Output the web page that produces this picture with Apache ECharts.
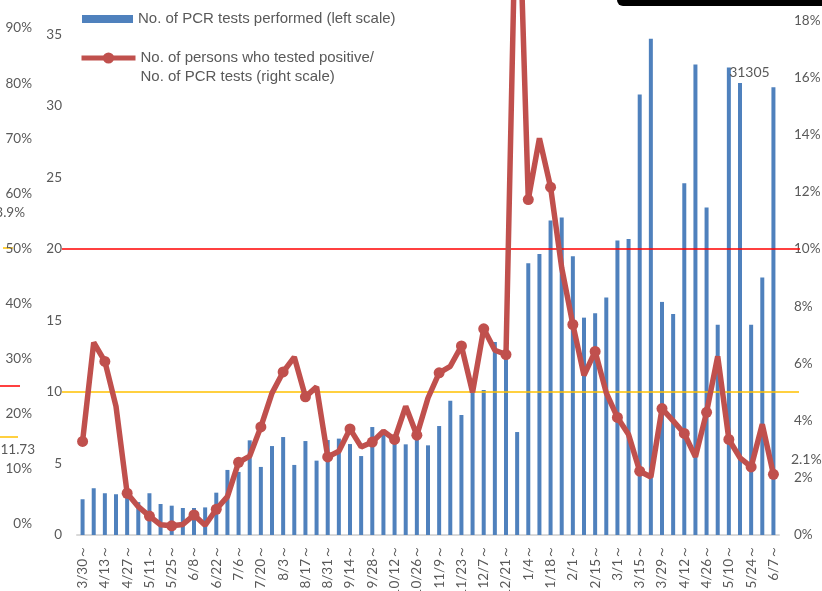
<!DOCTYPE html>
<html>
<head>
<meta charset="utf-8">
<script src="https://cdn.jsdelivr.net/npm/echarts@6/dist/echarts.min.js"></script>
<style>
  html, body { margin: 0; padding: 0; background: #fff; }
  #main { width: 822px; height: 591px; }
</style>
</head>
<body>
<div id="main"></div>
<script>
// weekly periods (week starting)
var weeks = ['3/30～', '4/6～', '4/13～', '4/20～', '4/27～', '5/4～', '5/11～', '5/18～', '5/25～', '6/1～',
  '6/8～', '6/15～', '6/22～', '6/29～', '7/6～', '7/13～', '7/20～', '7/27～', '8/3～', '8/10～',
  '8/17～', '8/24～', '8/31～', '9/7～', '9/14～', '9/21～', '9/28～', '10/5～', '10/12～', '10/19～',
  '10/26～', '11/2～', '11/9～', '11/16～', '11/23～', '11/30～', '12/7～', '12/14～', '12/21～', '12/28～',
  '1/4～', '1/11～', '1/18～', '1/25～', '2/1～', '2/8～', '2/15～', '2/22～', '3/1～', '3/8～',
  '3/15～', '3/22～', '3/29～', '4/5～', '4/12～', '4/19～', '4/26～', '5/3～', '5/10～', '5/17～',
  '5/24～', '5/31～', '6/7～'];

// No. of PCR tests performed (left scale)
var pcrTests = [2500, 3270, 2920, 2850, 2800, 2300, 2920, 2170, 2050, 1890,
  1890, 1930, 2960, 4550, 4410, 6620, 4760, 6220, 6850, 4900,
  6570, 5200, 6640, 6740, 6360, 5520, 7550, 7000, 6640, 6340,
  6690, 6270, 7620, 9390, 8390, 10000, 10140, 13500, 13200, 7200,
  19000, 19650, 22000, 22200, 19500, 15200, 15500, 16600, 20600, 20700,
  30800, 34700, 16300, 15450, 24600, 32900, 22900, 14700, 32700, 31600,
  14700, 18000, 31305];

// positives / PCR tests, % (right scale)
var positiveRate = [3.27, 6.73, 6.07, 4.5, 1.46, 0.99, 0.66, 0.36, 0.32, 0.37,
  0.70, 0.34, 0.90, 1.34, 2.54, 2.76, 3.78, 4.96, 5.7, 6.22,
  4.83, 5.18, 2.73, 2.93, 3.71, 3.08, 3.25, 3.63, 3.34, 4.5,
  3.49, 4.79, 5.67, 5.9, 6.61, 4.99, 7.21, 6.46, 6.31, 24.5,
  11.73, 13.87, 12.16, 9.34, 7.36, 5.58, 6.42, 4.97, 4.11, 3.51,
  2.23, 2.03, 4.42, 3.99, 3.55, 2.73, 4.29, 6.25, 3.34, 2.70,
  2.38, 3.87, 2.12];

var legendTests = 'No. of PCR tests performed (left scale)';
var legendRate = 'No. of persons who tested positive/\nNo. of PCR tests (right scale)';

// reference levels
var redLevel = 20000;   // left scale (= 10% right)
var yellowLevel = 10000; // left scale (= 5% right)

var grey = '#595959';
var numFont = 'Lato';

var chart = echarts.init(document.getElementById('main'), null, { renderer: 'canvas' });

var barData = pcrTests.map(function (v, i) {
  if (i === pcrTests.length - 1) {
    return {
      value: v,
      label: {
        show: true, position: 'top', offset: [-24, -3],
        color: grey, fontFamily: numFont, fontSize: 14
      }
    };
  }
  return v;
});

var lineData = positiveRate.map(function (v, i) {
  if (i === positiveRate.length - 1) {
    return {
      value: v,
      label: {
        show: true, position: 'right', distance: 12, offset: [0, -15],
        formatter: '2.1%', color: grey, fontFamily: numFont, fontSize: 14
      }
    };
  }
  return v;
});

var option = {
  animation: false,
  backgroundColor: '#fff',
  legend: [{
    left: 82, top: 10, padding: 0,
    itemWidth: 51, itemHeight: 8,
    icon: 'rect',
    data: [legendTests],
    textStyle: { color: grey, fontFamily: 'Liberation Sans', fontSize: 15, lineHeight: 18 }
  }, {
    left: 79, top: 29.5, padding: 0,
    itemWidth: 54, itemHeight: 14,
    lineStyle: { width: 5 },
    data: [legendRate],
    // blank first line so the first text line sits level with the icon
    formatter: function (name) { return ' \n' + name; },
    textStyle: { color: grey, fontFamily: 'Liberation Sans', fontSize: 15, lineHeight: 19 }
  }],
  grid: [
    { left: 77, right: 43, top: -37, bottom: 56, outerBoundsMode: 'none' },
    { left: 40, width: 1, top: -27, bottom: 67, outerBoundsMode: 'none' }
  ],
  xAxis: [{
    type: 'category',
    data: weeks,
    boundaryGap: true,
    axisLine: { lineStyle: { color: '#d9d9d9', width: 2 } },
    axisTick: { show: false },
    axisLabel: {
      interval: 1, rotate: 90, margin: 10,
      color: grey, fontFamily: numFont, fontSize: 13.5
    }
  }, {
    gridIndex: 1, type: 'value', show: false
  }],
  yAxis: [{
    type: 'value', min: 0, max: 40000, interval: 5000,
    splitLine: { show: false },
    axisLine: { show: false }, axisTick: { show: false },
    axisLabel: {
      margin: 15, color: grey, fontFamily: numFont, fontSize: 13.5,
      formatter: function (v) { return v / 1000; }
    }
  }, {
    type: 'value', min: 0, max: 20, interval: 2,
    position: 'right',
    splitLine: { show: false },
    axisLine: { show: false }, axisTick: { show: false },
    axisLabel: {
      margin: 15, color: grey, fontFamily: numFont, fontSize: 13.5,
      formatter: '{value}%'
    }
  }, {
    gridIndex: 1, type: 'value', min: 0, max: 100, interval: 10,
    position: 'left',
    splitLine: { show: false },
    axisLine: { show: false }, axisTick: { show: false },
    axisLabel: {
      margin: 8, color: grey, fontFamily: numFont, fontSize: 13.5,
      formatter: '{value}%'
    }
  }],
  series: [{
    name: legendTests,
    type: 'bar',
    yAxisIndex: 0,
    barWidth: 4,
    itemStyle: { color: '#4f81bd' },
    data: barData,
    z: 2
  }, {
    name: legendRate,
    type: 'line',
    yAxisIndex: 1,
    symbol: 'circle',
    symbolSize: 11,
    lineStyle: { color: '#c0504d', width: 5.5 },
    itemStyle: { color: '#c0504d' },
    data: lineData,
    z: 4
  }]
};

chart.setOption(option);

// horizontal reference lines and leftover marks at the edges
var yRed = chart.convertToPixel({ yAxisIndex: 0 }, redLevel);
var yYellow = chart.convertToPixel({ yAxisIndex: 0 }, yellowLevel);

chart.setOption({
  graphic: [
    { type: 'line', z: 3, shape: { x1: 62, y1: yRed, x2: 800, y2: yRed }, style: { stroke: '#ff0000', lineWidth: 1.5 } },
    { type: 'line', z: 3, shape: { x1: 62, y1: yYellow, x2: 799, y2: yYellow }, style: { stroke: '#ffc000', lineWidth: 1.5 } },
    { type: 'line', shape: { x1: 3, y1: 248, x2: 13, y2: 248 }, style: { stroke: '#ffc000', lineWidth: 1.5 } },
    { type: 'line', shape: { x1: 0, y1: 386, x2: 20, y2: 386 }, style: { stroke: '#ff0000', lineWidth: 1.5 } },
    { type: 'line', shape: { x1: 0, y1: 437, x2: 18, y2: 437 }, style: { stroke: '#ffc000', lineWidth: 1.5 } },
    { type: 'text', style: { text: '3.9%', x: 25, y: 213, align: 'right', verticalAlign: 'middle', fill: grey, font: '13.5px Lato' } },
    { type: 'text', style: { text: '11.73', x: 35, y: 450, align: 'right', verticalAlign: 'middle', fill: grey, font: '13.5px Lato' } },
    { type: 'rect', shape: { x: 617, y: -6, width: 220, height: 12, r: 6 }, style: { fill: '#000' } }
  ]
});
</script>
</body>
</html>
